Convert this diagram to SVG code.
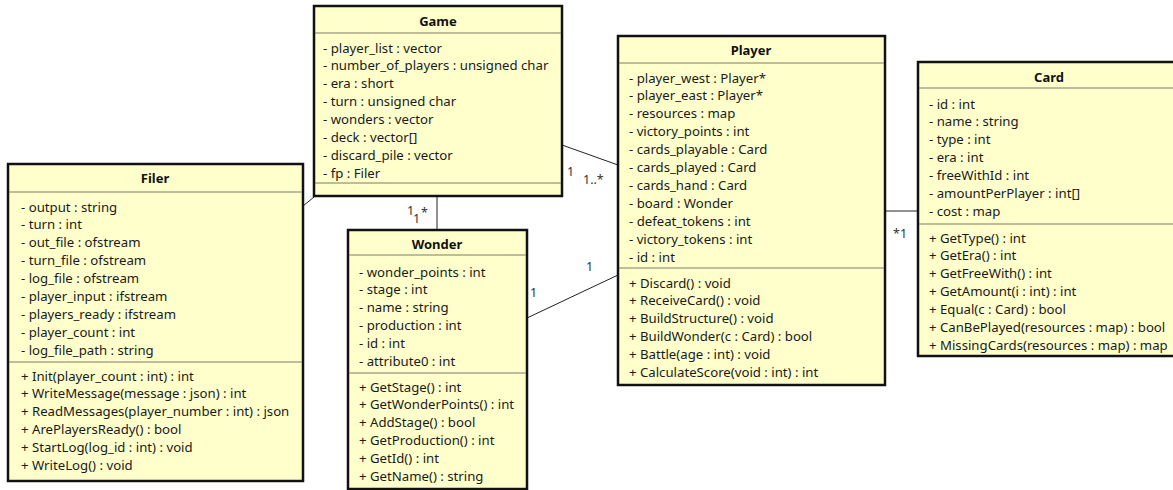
<svg xmlns="http://www.w3.org/2000/svg" width="1173" height="490" viewBox="0 0 1173 490">
<style>
.box{fill:#ffffcc;stroke:#111;stroke-width:2.5}
.sep{stroke:#7d7d6a;stroke-width:1.2}
.t{font-family:"Noto Sans","Open Sans",sans-serif;font-size:13.2px;fill:#1a1a1a}
.h{font-family:"Noto Sans","Open Sans",sans-serif;font-size:13px;font-weight:bold;fill:#111;text-anchor:middle}
.c{stroke:#222;stroke-width:1;fill:none}
.l{font-family:"Noto Sans","Open Sans",sans-serif;font-size:12.5px;fill:#333}
</style>
<rect width="1173" height="490" fill="#ffffff"/>
<g id="connectors">
<line class="c" x1="303" y1="206" x2="314" y2="197"/>
<line class="c" x1="437" y1="197" x2="437" y2="230"/>
<line class="c" x1="562" y1="145" x2="618" y2="165"/>
<line class="c" x1="527" y1="318" x2="618" y2="275"/>
<line class="c" x1="885" y1="211" x2="918" y2="211"/>
<text class="l" x="407" y="215">1</text>
<text class="l" x="413" y="223">1</text>
<text class="l" x="421" y="217">*</text>
<text class="l" x="567" y="176">1</text>
<text class="l" x="583" y="184">1..*</text>
<text class="l" x="586" y="271">1</text>
<text class="l" x="530" y="297">1</text>
<text class="l" x="893" y="238">*1</text>
</g>
<g id="game">
<rect class="box" x="314" y="6" width="248" height="190"/>
<line class="sep" x1="315" y1="33" x2="561" y2="33"/>
<line class="sep" x1="315" y1="183" x2="561" y2="183"/>
<text class="h" x="438" y="26">Game</text>
<text class="t" y="52.5"><tspan x="323">- player_list : vector</tspan><tspan x="323" dy="17.9">- number_of_players : unsigned char</tspan><tspan x="323" dy="17.9">- era : short</tspan><tspan x="323" dy="17.9">- turn : unsigned char</tspan><tspan x="323" dy="17.9">- wonders : vector</tspan><tspan x="323" dy="17.9">- deck : vector[]</tspan><tspan x="323" dy="17.9">- discard_pile : vector</tspan><tspan x="323" dy="17.9">- fp : Filer</tspan></text>
</g>
<g id="player">
<rect class="box" x="618" y="36" width="267" height="349"/>
<line class="sep" x1="619" y1="63" x2="884" y2="63"/>
<line class="sep" x1="619" y1="268" x2="884" y2="268"/>
<text class="h" x="751" y="55">Player</text>
<text class="t" y="82.5"><tspan x="629">- player_west : Player*</tspan><tspan x="629" dy="17.9">- player_east : Player*</tspan><tspan x="629" dy="17.9">- resources : map</tspan><tspan x="629" dy="17.9">- victory_points : int</tspan><tspan x="629" dy="17.9">- cards_playable : Card</tspan><tspan x="629" dy="17.9">- cards_played : Card</tspan><tspan x="629" dy="17.9">- cards_hand : Card</tspan><tspan x="629" dy="17.9">- board : Wonder</tspan><tspan x="629" dy="17.9">- defeat_tokens : int</tspan><tspan x="629" dy="17.9">- victory_tokens : int</tspan><tspan x="629" dy="17.9">- id : int</tspan></text>
<text class="t" y="287.5"><tspan x="629">+ Discard() : void</tspan><tspan x="629" dy="17.9">+ ReceiveCard() : void</tspan><tspan x="629" dy="17.9">+ BuildStructure() : void</tspan><tspan x="629" dy="17.9">+ BuildWonder(c : Card) : bool</tspan><tspan x="629" dy="17.9">+ Battle(age : int) : void</tspan><tspan x="629" dy="17.9">+ CalculateScore(void : int) : int</tspan></text>
</g>
<g id="card">
<rect class="box" x="918" y="62" width="262" height="294"/>
<line class="sep" x1="919" y1="88" x2="1180" y2="88"/>
<line class="sep" x1="919" y1="224" x2="1180" y2="224"/>
<text class="h" x="1049" y="82">Card</text>
<text class="t" y="108.5"><tspan x="929">- id : int</tspan><tspan x="929" dy="17.9">- name : string</tspan><tspan x="929" dy="17.9">- type : int</tspan><tspan x="929" dy="17.9">- era : int</tspan><tspan x="929" dy="17.9">- freeWithId : int</tspan><tspan x="929" dy="17.9">- amountPerPlayer : int[]</tspan><tspan x="929" dy="17.9">- cost : map</tspan></text>
<text class="t" y="242.5"><tspan x="929">+ GetType() : int</tspan><tspan x="929" dy="17.9">+ GetEra() : int</tspan><tspan x="929" dy="17.9">+ GetFreeWith() : int</tspan><tspan x="929" dy="17.9">+ GetAmount(i : int) : int</tspan><tspan x="929" dy="17.9">+ Equal(c : Card) : bool</tspan><tspan x="929" dy="17.9">+ CanBePlayed(resources : map) : bool</tspan><tspan x="929" dy="17.9">+ MissingCards(resources : map) : map</tspan></text>
</g>
<g id="filer">
<rect class="box" x="8" y="164" width="295" height="317"/>
<line class="sep" x1="9" y1="192" x2="302" y2="192"/>
<line class="sep" x1="9" y1="362" x2="302" y2="362"/>
<text class="h" x="155" y="183">Filer</text>
<text class="t" y="211.5"><tspan x="21">- output : string</tspan><tspan x="21" dy="17.9">- turn : int</tspan><tspan x="21" dy="17.9">- out_file : ofstream</tspan><tspan x="21" dy="17.9">- turn_file : ofstream</tspan><tspan x="21" dy="17.9">- log_file : ofstream</tspan><tspan x="21" dy="17.9">- player_input : ifstream</tspan><tspan x="21" dy="17.9">- players_ready : ifstream</tspan><tspan x="21" dy="17.9">- player_count : int</tspan><tspan x="21" dy="17.9">- log_file_path : string</tspan></text>
<text class="t" y="380.5"><tspan x="21">+ Init(player_count : int) : int</tspan><tspan x="21" dy="17.9">+ WriteMessage(message : json) : int</tspan><tspan x="21" dy="17.9">+ ReadMessages(player_number : int) : json</tspan><tspan x="21" dy="17.9">+ ArePlayersReady() : bool</tspan><tspan x="21" dy="17.9">+ StartLog(log_id : int) : void</tspan><tspan x="21" dy="17.9">+ WriteLog() : void</tspan></text>
</g>
<g id="wonder">
<rect class="box" x="348" y="230" width="179" height="259"/>
<line class="sep" x1="349" y1="255" x2="526" y2="255"/>
<line class="sep" x1="349" y1="373" x2="526" y2="373"/>
<text class="h" x="437" y="249">Wonder</text>
<text class="t" y="276.5"><tspan x="359">- wonder_points : int</tspan><tspan x="359" dy="17.9">- stage : int</tspan><tspan x="359" dy="17.9">- name : string</tspan><tspan x="359" dy="17.9">- production : int</tspan><tspan x="359" dy="17.9">- id : int</tspan><tspan x="359" dy="17.9">- attribute0 : int</tspan></text>
<text class="t" y="391.5"><tspan x="359">+ GetStage() : int</tspan><tspan x="359" dy="17.9">+ GetWonderPoints() : int</tspan><tspan x="359" dy="17.9">+ AddStage() : bool</tspan><tspan x="359" dy="17.9">+ GetProduction() : int</tspan><tspan x="359" dy="17.9">+ GetId() : int</tspan><tspan x="359" dy="17.9">+ GetName() : string</tspan></text>
</g>
</svg>
